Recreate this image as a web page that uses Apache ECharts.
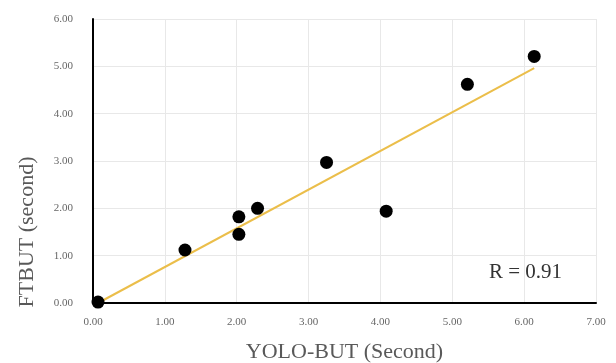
<!DOCTYPE html>
<html>
<head>
<meta charset="utf-8">
<script src="https://cdn.jsdelivr.net/npm/echarts@6/dist/echarts.min.js"></script>
<style>
  html, body { margin: 0; padding: 0; background: #fff; }
  #chart { width: 616px; height: 363px; }
</style>
</head>
<body>
<div id="chart"></div>
<script>
// values
const yoloBut = [0.07, 1.28, 2.03, 2.03, 2.29, 3.25, 4.08, 5.21, 6.14];
const ftBut   = [0.02, 1.12, 1.82, 1.45, 2.00, 2.97, 1.94, 4.62, 5.21];
const trendX = [0.07, 6.14];
const trendY = [0.00, 4.96];
const rLabel = 'R = 0.91';

let chart = echarts.init(document.getElementById('chart'));

let points = yoloBut.map(function (x, i) { return [x, ftBut[i]]; });
let trend = trendX.map(function (x, i) { return [x, trendY[i]]; });

let font = '"Liberation Serif", "Times New Roman", serif';

let option = {
    animation: false,
    grid: { left: 93, right: 20, top: 19, bottom: 60, outerBoundsMode: 'none', containLabel: false },
    xAxis: {
        type: 'value',
        min: 0, max: 7, interval: 1,
        name: 'YOLO-BUT (Second)',
        nameLocation: 'middle',
        nameGap: 38,
        nameTextStyle: { fontFamily: font, fontSize: 22, color: '#595959' },
        axisLine: { lineStyle: { color: '#000', width: 2 } },
        axisTick: { show: false },
        axisLabel: { fontFamily: font, fontSize: 11, color: '#666', margin: 14,
            formatter: function (v) { return v.toFixed(2); } },
        splitLine: { show: true, lineStyle: { color: '#e8e8e8' } }
    },
    yAxis: {
        type: 'value',
        min: 0, max: 6, interval: 1,
        axisLine: { show: true, lineStyle: { color: '#000', width: 2 } },
        axisTick: { show: false },
        axisLabel: { fontFamily: font, fontSize: 11, color: '#666', margin: 20,
            formatter: function (v) { return v.toFixed(2); } },
        splitLine: { show: true, lineStyle: { color: '#e8e8e8' } }
    },
    series: [
        {
            name: 'trend',
            type: 'line',
            data: trend,
            symbol: 'none',
            lineStyle: { color: '#EBBE4A', width: 2 },
            z: 2
        },
        {
            name: 'points',
            type: 'scatter',
            data: points,
            symbolSize: 13,
            itemStyle: { color: '#000', opacity: 1 },
            z: 3
        }
    ],
    graphic: [
        {
            type: 'text',
            x: 27,
            y: 232,
            rotation: Math.PI / 2,
            style: { text: 'FTBUT (second)', font: '22px ' + font, fill: '#595959',
                align: 'center', verticalAlign: 'middle' }
        },
        {
            type: 'text',
            left: 489,
            top: 262,
            style: { text: rLabel, font: '21px ' + font, fill: '#333' }
        }
    ]
};

chart.setOption(option);
</script>
</body>
</html>
